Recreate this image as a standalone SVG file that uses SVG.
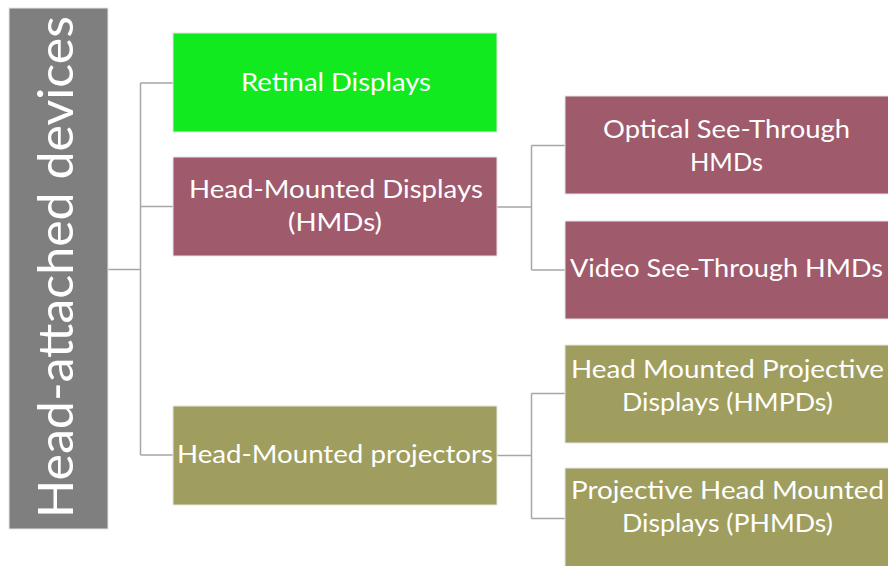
<svg xmlns="http://www.w3.org/2000/svg" width="888" height="566" viewBox="0 0 888 566">
  <style>
    .box { stroke: #e6e6e6; stroke-width: 1; }
    .root { fill: #7f7f7f; }
    .green { fill: #11ea1f; }
    .maroon { fill: #9f5a6b; }
    .olive { fill: #a09e5e; }
    .lbl { font-family: Lato, "Open Sans", "Liberation Sans", sans-serif; font-size: 25px; fill: #ffffff; text-anchor: middle; }
    .rootlbl { font-family: Lato, "Open Sans", "Liberation Sans", sans-serif; font-size: 48px; fill: #ffffff; text-anchor: middle; }
    .conn { fill: none; stroke: #a6a6a6; stroke-width: 1.5; }
  </style>

  <rect width="888" height="566" fill="#ffffff"/>

  <g id="connectors">
    <!-- root to first level -->
    <path class="conn" d="M108 269.5 H140.5 M140.5 83 V455 M140.5 83 H173 M140.5 206.5 H173 M140.5 455 H173"/>
    <!-- HMDs to its children -->
    <path class="conn" d="M497 207 H531.5 M531.5 145.5 V270 M531.5 145.5 H565 M531.5 270 H565"/>
    <!-- projectors to its children -->
    <path class="conn" d="M497 455.5 H531.5 M531.5 393.5 V518.5 M531.5 393.5 H565 M531.5 518.5 H565"/>
  </g>

  <g id="root">
    <rect class="box root" x="9" y="8" width="99" height="521"/>
    <text class="rootlbl" transform="translate(73 267) rotate(-90)" textLength="502" lengthAdjust="spacingAndGlyphs">Head-attached devices</text>
  </g>

  <g id="retinal">
    <rect class="box green" x="173" y="33" width="324" height="99"/>
    <text class="lbl" x="336" y="91" textLength="190" lengthAdjust="spacingAndGlyphs">Retinal Displays</text>
  </g>

  <g id="hmd">
    <rect class="box maroon" x="173" y="157" width="324" height="99"/>
    <text class="lbl" x="336" y="198" textLength="294" lengthAdjust="spacingAndGlyphs">Head-Mounted Displays</text>
    <text class="lbl" x="335" y="231" textLength="94" lengthAdjust="spacingAndGlyphs">(HMDs)</text>
  </g>

  <g id="projectors">
    <rect class="box olive" x="173" y="406" width="324" height="99"/>
    <text class="lbl" x="335" y="463" textLength="316" lengthAdjust="spacingAndGlyphs">Head-Mounted projectors</text>
  </g>

  <g id="optical">
    <rect class="box maroon" x="565" y="96" width="324" height="98"/>
    <text class="lbl" x="726.5" y="138" textLength="247" lengthAdjust="spacingAndGlyphs">Optical See-Through</text>
    <text class="lbl" x="726.5" y="171" textLength="73" lengthAdjust="spacingAndGlyphs">HMDs</text>
  </g>

  <g id="video">
    <rect class="box maroon" x="565" y="221" width="324" height="98"/>
    <text class="lbl" x="726.5" y="277" textLength="313" lengthAdjust="spacingAndGlyphs">Video See-Through HMDs</text>
  </g>

  <g id="hmpd">
    <rect class="box olive" x="565" y="345" width="324" height="98"/>
    <text class="lbl" x="727.5" y="378" textLength="313" lengthAdjust="spacingAndGlyphs">Head Mounted Projective</text>
    <text class="lbl" x="727.5" y="411" textLength="211" lengthAdjust="spacingAndGlyphs">Displays (HMPDs)</text>
  </g>

  <g id="phmd">
    <rect class="box olive" x="565" y="468" width="324" height="100"/>
    <text class="lbl" x="727.5" y="499" textLength="313" lengthAdjust="spacingAndGlyphs">Projective Head Mounted</text>
    <text class="lbl" x="727.5" y="532" textLength="211" lengthAdjust="spacingAndGlyphs">Displays (PHMDs)</text>
  </g>
</svg>
